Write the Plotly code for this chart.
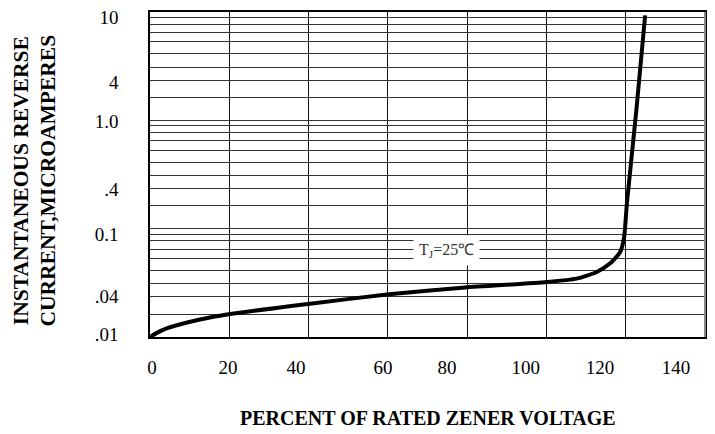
import plotly.graph_objects as go

# ---- data ----
pct_rated_voltage = [0, 1.5, 4.2, 12.6, 20.2, 40.4, 60.3, 79.5, 100.1, 107.6,
                     112.7, 116.0, 118.6, 119.6, 120.3, 122.7, 124.9]
reverse_current_uA = [0.0100, 0.0108, 0.0120, 0.0145, 0.0163, 0.0203, 0.0248,
                      0.0286, 0.0322, 0.0346, 0.0398, 0.0476, 0.0609, 0.0837,
                      0.171, 1.26, 9.3]

x_tick_text = ["0", "20", "40", "60", "80", "100", "120", "140"]
x_tick_at = [0.5, 19.7, 36.8, 58.8, 74.9, 94.8, 113.5, 132.7]
x_grid = [20, 40, 60, 80, 100, 120]

y_tick_text = ["10", "4", "1.0", ".4", "0.1", ".04", ".01"]
y_tick_at = [8.88, 2.24, 0.97, 0.233, 0.0887, 0.0238, 0.0106]
decade_fracs = [0.89, 0.77, 0.645, 0.53, 0.41, 0.31, 0.235, 0.163]
decades = [10, 1, 0.1]
y_grid = [d * f for d in decades for f in decade_fracs] + [1.0, 0.1]

label_text = "T<sub>J</sub>=25℃"
x_title = "PERCENT OF RATED ZENER VOLTAGE"
y_title_lines = ["INSTANTANEOUS REVERSE", "CURRENT,MICROAMPERES"]

FONT = "Liberation Serif, Times New Roman, serif"
PAGE_OFFSET = 8  # default body margin of the html page

fig = go.Figure()
fig.add_trace(go.Scatter(
    x=pct_rated_voltage, y=reverse_current_uA, mode="lines",
    line=dict(color="black", width=4, shape="spline", smoothing=0.6),
    showlegend=False, hoverinfo="skip"))

fig.update_layout(
    width=715, height=434,
    margin=dict(l=150 - PAGE_OFFSET, r=10 + PAGE_OFFSET,
                t=12 - PAGE_OFFSET, b=97 + PAGE_OFFSET),
    paper_bgcolor="white", plot_bgcolor="white",
    font=dict(family=FONT, color="black"),
    xaxis=dict(
        range=[0, 140], showgrid=False, zeroline=False, automargin=False,
        tickmode="array", tickvals=x_tick_at, ticktext=x_tick_text,
        ticks="", ticklabelstandoff=12, tickfont=dict(size=19, family=FONT),
        ticklabeloverflow="allow",
        showline=True, linecolor="black", linewidth=1.5, mirror=True,
        minor=dict(tickmode="array", tickvals=x_grid, showgrid=True,
                   gridcolor="#111", gridwidth=1.3, ticks=""),
    ),
    yaxis=dict(
        type="log", range=[-2, 1], showgrid=False, zeroline=False, automargin=False,
        tickmode="array", tickvals=y_tick_at, ticktext=y_tick_text,
        ticks="", ticklabelstandoff=26, tickfont=dict(size=19, family=FONT),
        ticklabeloverflow="allow",
        showline=True, linecolor="black", linewidth=1.5, mirror=True,
        minor=dict(tickmode="array", tickvals=y_grid, showgrid=True,
                   gridcolor="#333", gridwidth=1.2, ticks=""),
    ),
    annotations=[
        dict(text="<br>".join("<b>" + s + "</b>" for s in y_title_lines),
             xref="paper", yref="paper", x=0, y=0.5, xshift=-116, yshift=-6,
             xanchor="center", yanchor="middle", textangle=-90, showarrow=False,
             font=dict(size=21.5, family=FONT, color="black")),
        dict(text="<b>" + x_title + "</b>",
             xref="paper", yref="paper", x=0.5, y=0, yshift=-81,
             xanchor="center", yanchor="middle", showarrow=False,
             font=dict(size=20, family=FONT, color="black")),
        dict(text=label_text, x=74.9, y=-1.2, xref="x", yref="y",
             showarrow=False, bgcolor="white", borderpad=5,
             font=dict(size=16, family=FONT, color="#333")),
    ],
)

fig.add_shape(type="line", xref="paper", yref="paper", x0=1, x1=1, y0=0, y1=1,
              line=dict(color="#888", width=2))

fig.write_html("out.html")
